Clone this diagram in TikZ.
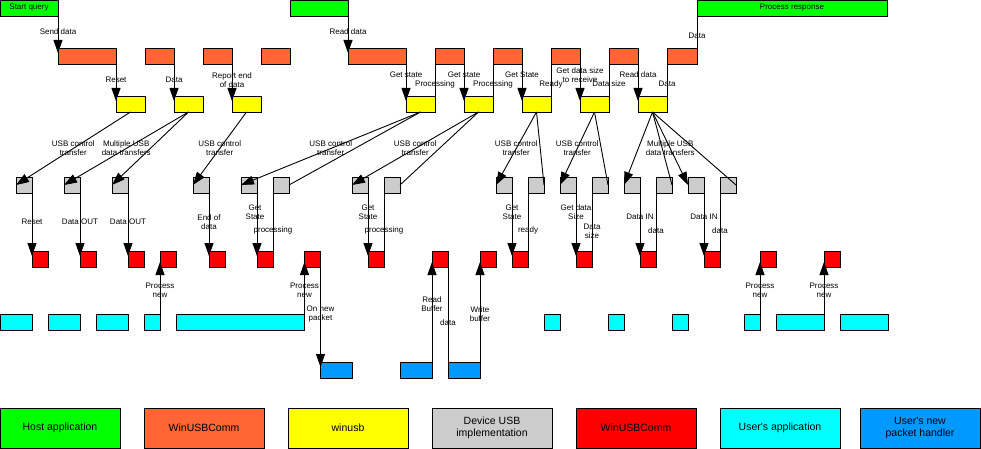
\documentclass[tikz,border=0pt]{standalone}
\usepackage{fontspec}
\setmainfont{Liberation Sans}
\usetikzlibrary{arrows.meta}

\definecolor{hostgreen}{HTML}{00FF00}
\definecolor{commorange}{HTML}{FF6633}
\definecolor{winusbyellow}{HTML}{FFFF00}
\definecolor{devgray}{HTML}{CCCCCC}
\definecolor{devred}{HTML}{FF0000}
\definecolor{appcyan}{HTML}{00FFFF}
\definecolor{pktblue}{HTML}{0099FF}

\tikzset{
  cell/.style={draw=black, line width=0.9pt, anchor=north west, inner sep=0pt,
    outer sep=0pt, minimum height=16pt},
  host/.style={cell, fill=hostgreen, font=\fontsize{8}{9}\selectfont},
  comm/.style={cell, fill=commorange},
  wusb/.style={cell, fill=winusbyellow, minimum width=29pt},
  dev/.style={cell, fill=devgray, minimum width=16pt},
  fw/.style={cell, fill=devred, minimum width=16pt},
  app/.style={cell, fill=appcyan},
  pkt/.style={cell, fill=pktblue, minimum width=32pt},
  key/.style={draw=black, line width=0.9pt, anchor=north west, minimum width=120pt,
    minimum height=40pt, inner sep=0pt, outer sep=0pt, align=center,
    font=\fontsize{10.5}{12}\selectfont},
  wire/.style={draw=black, line width=0.9pt},
  flow/.style={wire, -{Triangle[length=13pt,width=9pt]}},
  plunge/.style={flow, shorten >=-5pt},
  lab/.style={font=\fontsize{8}{9}\selectfont, align=center, inner sep=0pt, text=black},
}

\begin{document}
\begin{tikzpicture}[x=1pt,y=-1pt]
\useasboundingbox (0,0) rectangle (981,449);

% host application
\node[host, minimum width=58pt]  (sq) at (0,0)   {Start query};
\node[host, minimum width=58pt]  (rd) at (290,0) {};
\node[host, minimum width=190pt] (pr) at (697,0) {Process response};

% WinUSBComm (host side)
\node[comm, minimum width=58pt] (o1)  at (58,48)  {};
\node[comm, minimum width=29pt] (o2)  at (145,48) {};
\node[comm, minimum width=29pt] (o3)  at (203,48) {};
\node[comm, minimum width=29pt] (o4)  at (261,48) {};
\node[comm, minimum width=58pt] (o5)  at (348,48) {};
\node[comm, minimum width=29pt] (o6)  at (435,48) {};
\node[comm, minimum width=29pt] (o7)  at (493,48) {};
\node[comm, minimum width=29pt] (o8)  at (551,48) {};
\node[comm, minimum width=29pt] (o9)  at (609,48) {};
\node[comm, minimum width=30pt] (o10) at (667,48) {};

% winusb
\node[wusb] (y1) at (116,96) {};
\node[wusb] (y2) at (174,96) {};
\node[wusb] (y3) at (232,96) {};
\node[wusb] (y4) at (406,96) {};
\node[wusb] (y5) at (464,96) {};
\node[wusb] (y6) at (522,96) {};
\node[wusb] (y7) at (580,96) {};
\node[wusb] (y8) at (638,96) {};

% device USB implementation
\node[dev] (g1)  at (16,177)  {};
\node[dev] (g2)  at (64,177)  {};
\node[dev] (g3)  at (112,177) {};
\node[dev] (g4)  at (193,177) {};
\node[dev] (g5)  at (241,177) {};
\node[dev] (g6)  at (273,177) {};
\node[dev] (g7)  at (352,177) {};
\node[dev] (g8)  at (384,177) {};
\node[dev] (g9)  at (496,177) {};
\node[dev] (g10) at (528,177) {};
\node[dev] (g11) at (560,177) {};
\node[dev] (g12) at (592,177) {};
\node[dev] (g13) at (624,177) {};
\node[dev] (g14) at (656,177) {};
\node[dev] (g15) at (688,177) {};
\node[dev] (g16) at (720,177) {};

% WinUSBComm (device side)
\node[fw] (r1)  at (32,251)  {};
\node[fw] (r2)  at (80,251)  {};
\node[fw] (r3)  at (128,251) {};
\node[fw] (r4)  at (160,251) {};
\node[fw] (r5)  at (209,251) {};
\node[fw] (r6)  at (257,251) {};
\node[fw] (r7)  at (304.5,251) {};
\node[fw] (r8)  at (368,251) {};
\node[fw] (r9)  at (432,251) {};
\node[fw] (r10) at (480,251) {};
\node[fw] (r11) at (512,251) {};
\node[fw] (r12) at (576,251) {};
\node[fw] (r13) at (640,251) {};
\node[fw] (r14) at (704,251) {};
\node[fw] (r15) at (760,251) {};
\node[fw] (r16) at (824,251) {};

% user's application
\node[app, minimum width=32pt]    (c1)  at (0,314)   {};
\node[app, minimum width=32pt]    (c2)  at (48,314)  {};
\node[app, minimum width=32pt]    (c3)  at (96,314)  {};
\node[app, minimum width=16pt]    (c4)  at (144,314) {};
\node[app, minimum width=128.5pt] (c5)  at (176,314) {};
\node[app, minimum width=16pt]    (c6)  at (544,314) {};
\node[app, minimum width=16pt]    (c7)  at (608,314) {};
\node[app, minimum width=16pt]    (c8)  at (672,314) {};
\node[app, minimum width=16pt]    (c9)  at (744,314) {};
\node[app, minimum width=48pt]    (c10) at (776,314) {};
\node[app, minimum width=48pt]    (c11) at (840,314) {};

% user's new packet handler
\node[pkt] (b1) at (320.5,362) {};
\node[pkt] (b2) at (400,362) {};
\node[pkt] (b3) at (448,362) {};

% host application <-> WinUSBComm <-> winusb
\draw[plunge] (sq.south east) -- node[lab]{Send data} (o1.north west);
\draw[plunge] (o1.south east) -- node[lab]{Reset} (y1.north west);
\draw[plunge] (o2.south east) -- node[lab]{Data} (y2.north west);
\draw[plunge] (o3.south east) -- node[lab]{Report end\\of data} (y3.north west);
\draw[plunge] (rd.south east) -- node[lab]{Read data} (o5.north west);
\draw[plunge] (o5.south east) -- node[lab,yshift=5pt]{Get state} (y4.north west);
\draw[wire] (y4.north east) -- node[lab,yshift=-4pt]{Processing} (o6.south west);
\draw[plunge] (o6.south east) -- node[lab,yshift=5pt]{Get state} (y5.north west);
\draw[wire] (y5.north east) -- node[lab,yshift=-4pt]{Processing} (o7.south west);
\draw[plunge] (o7.south east) -- node[lab,yshift=5pt]{Get State} (y6.north west);
\draw[wire] (y6.north east) -- node[lab,yshift=-4pt]{Ready} (o8.south west);
\draw[plunge] (o8.south east) -- node[lab,yshift=4.5pt]{Get data size\\to receive} (y7.north west);
\draw[wire] (y7.north east) -- node[lab,yshift=-4pt]{Data size} (o9.south west);
\draw[plunge] (o9.south east) -- node[lab,yshift=5pt]{Read data} (y8.north west);
\draw[wire] (y8.north east) -- node[lab,yshift=-4pt]{Data} (o10.south west);
\draw[wire] (o10.north east) -- node[lab,yshift=-4pt]{Data} (pr.south west);

% winusb <-> device USB implementation
\draw[flow] (y1.south) -- node[lab]{USB control\\transfer} (g1.west);
\draw[flow] (y2.south) -- node[lab]{Multiple USB\\data transfers} (g2.west);
\draw[flow] (y2.south) -- (g3.west);
\draw[flow] (y3.south) -- node[lab]{USB control\\transfer} (g4.west);
\draw[flow] (y4.south) -- node[lab]{USB control\\transfer} (g5.west);
\draw[wire] (g6.east) -- (y4.south);
\draw[flow] (y5.south) -- node[lab]{USB control\\transfer} (g7.west);
\draw[wire] (g8.east) -- (y5.south);
\draw[flow] (y6.south) -- node[lab]{USB control\\transfer} (g9.west);
\draw[wire] (g10.east) -- (y6.south);
\draw[flow] (y7.south) -- node[lab]{USB control\\transfer} (g11.west);
\draw[wire] (g12.east) -- (y7.south);
\draw[flow] (y8.south) -- (g13.west);
\draw[wire] (g14.east) -- (y8.south);
\draw[flow] (y8.south) -- node[lab]{Multiple USB\\data transfers} (g15.west);
\draw[wire] (g16.east) -- (y8.south);

% device USB implementation <-> WinUSBComm
\draw[plunge] (g1.south east) -- node[lab]{Reset} (r1.north west);
\draw[plunge] (g2.south east) -- node[lab]{Data OUT} (r2.north west);
\draw[plunge] (g3.south east) -- node[lab]{Data OUT} (r3.north west);
\draw[plunge] (g4.south east) -- node[lab]{End of\\data} (r5.north west);
\draw[plunge] (g5.south east) -- node[lab,yshift=10pt,xshift=-2pt]{Get\\State} (r6.north west);
\draw[wire] (r6.north east) -- node[lab,yshift=-8.5pt]{processing} (g6.south west);
\draw[plunge] (g7.south east) -- node[lab,yshift=10pt]{Get\\State} (r8.north west);
\draw[wire] (r8.north east) -- node[lab,yshift=-8.5pt]{processing} (g8.south west);
\draw[plunge] (g9.south east) -- node[lab,yshift=10pt]{Get\\State} (r11.north west);
\draw[wire] (r11.north east) -- node[lab,yshift=-8.5pt]{ready} (g10.south west);
\draw[plunge] (g11.south east) -- node[lab,yshift=10pt]{Get data\\Size} (r12.north west);
\draw[wire] (r12.north east) -- node[lab,yshift=-9pt]{Data\\size} (g12.south west);
\draw[plunge] (g13.south east) -- node[lab,yshift=5.5pt]{Data IN} (r13.north west);
\draw[wire] (r13.north east) -- node[lab,yshift=-8.5pt]{data} (g14.south west);
\draw[plunge] (g15.south east) -- node[lab,yshift=5.5pt]{Data IN} (r14.north west);
\draw[wire] (r14.north east) -- node[lab,yshift=-8.5pt]{data} (g16.south west);

% WinUSBComm <-> user's application and packet handler
\draw[plunge] (c4.north east) -- node[lab]{Process\\new} (r4.south west);
\draw[plunge] (c5.north east) -- node[lab]{Process\\new} (r7.south west);
\draw[plunge] (r7.south east) -- node[lab]{On new\\packet} (b1.north west);
\draw[plunge] (b2.north east) -- node[lab,yshift=10pt]{Read\\Buffer} (r9.south west);
\draw[wire] (r9.south east) -- node[lab,yshift=-8.5pt]{data} (b3.north west);
\draw[plunge] (b3.north east) -- node[lab]{Write\\buffer} (r10.south west);
\draw[plunge] (c9.north east) -- node[lab]{Process\\new} (r15.south west);
\draw[plunge] (c10.north east) -- node[lab]{Process\\new} (r16.south west);

% legend
\node[key, fill=hostgreen]    (k1) at (0,408)   {Host application};
\node[key, fill=commorange]   (k2) at (144,408) {WinUSBComm};
\node[key, fill=winusbyellow] (k3) at (288,408) {winusb};
\node[key, fill=devgray]      (k4) at (432,408) {Device USB\\implementation};
\node[key, fill=devred]       (k5) at (576,408) {WinUSBComm};
\node[key, fill=appcyan]      (k6) at (720,408) {User\textquotesingle s application};
\node[key, fill=pktblue]      (k7) at (860,408) {User\textquotesingle s new\\packet handler};
\end{tikzpicture}
\end{document}
